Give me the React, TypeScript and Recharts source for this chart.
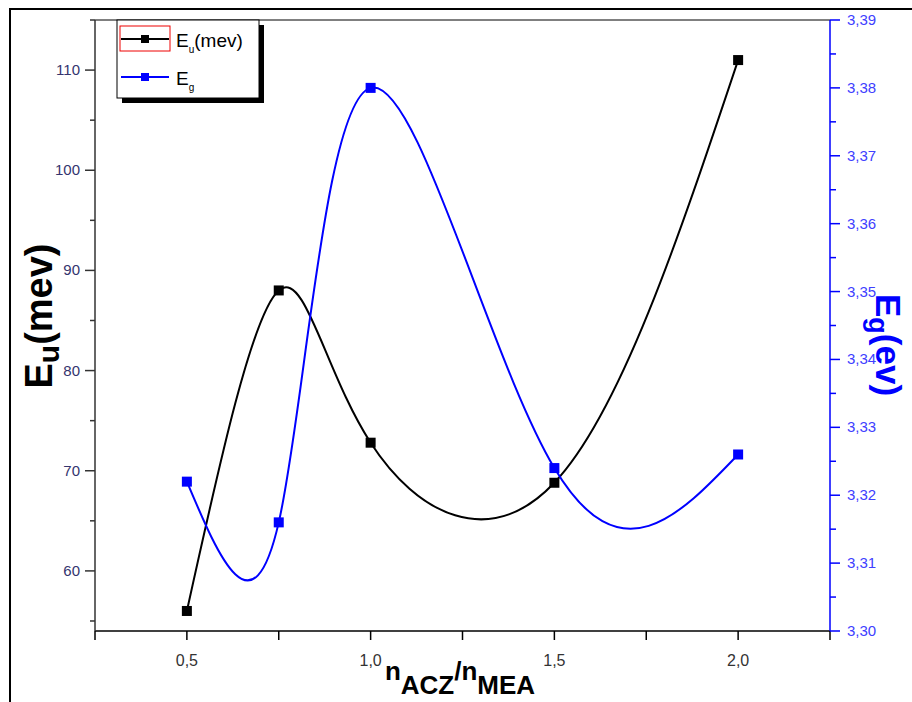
import React from "react";
import {
  ComposedChart,
  Line,
  XAxis,
  YAxis,
  ReferenceLine,
} from "recharts";

// ratio nACZ/nMEA
const ratios = [0.5, 0.75, 1.0, 1.5, 2.0];
// Urbach energy (mev), left axis
const euValues = [56, 88, 72.8, 68.8, 111];
// band gap (ev), right axis
const egValues = [3.322, 3.316, 3.38, 3.324, 3.326];

const xTicks = [0.25, 0.5, 0.75, 1.0, 1.25, 1.5, 1.75, 2.0, 2.25];
const leftTicks = [55, 60, 65, 70, 75, 80, 85, 90, 95, 100, 105, 110, 115];
const rightTicks = [
  3.3, 3.305, 3.31, 3.315, 3.32, 3.325, 3.33, 3.335, 3.34, 3.345, 3.35,
  3.355, 3.36, 3.365, 3.37, 3.375, 3.38, 3.385, 3.39,
];

const data = ratios.map((r, i) => ({ r, eu: euValues[i], eg: egValues[i] }));

const FONT = "'Liberation Sans', Arial, sans-serif";

const LeftTick = (props: any) => {
  const { x, y, payload } = props;
  const major = payload.value % 10 === 0;
  return (
    <g>
      <line x1={x} x2={x - (major ? 10 : 5)} y1={y} y2={y} stroke="#333" strokeWidth={1.5} />
      {major && (
        <text x={x - 15} y={y} dy={5} textAnchor="end" fill="#34346e" fontSize={15} fontFamily={FONT}>
          {payload.value}
        </text>
      )}
    </g>
  );
};

const RightTick = (props: any) => {
  const { x, y, payload } = props;
  const major = Math.round(payload.value * 1000) % 10 === 0;
  return (
    <g>
      <line x1={x} x2={x + (major ? 10 : 6)} y1={y} y2={y} stroke="#0000ff" strokeWidth={1.5} />
      {major && (
        <text x={x + 17} y={y} dy={5} textAnchor="start" fill="#4040ff" fontSize={15} fontFamily={FONT}>
          {payload.value.toFixed(2).replace(".", ",")}
        </text>
      )}
    </g>
  );
};

const BottomTick = (props: any) => {
  const { x, y, payload } = props;
  const major = Math.round(payload.value * 100) % 50 === 0;
  return (
    <g>
      <line x1={x} x2={x} y1={y} y2={y + 9} stroke="#000" strokeWidth={1.5} />
      {major && (
        <text x={x} y={y} dy={35} textAnchor="middle" fill="#333" fontSize={16}
          fontFamily="'Liberation Sans Narrow', 'Liberation Sans', Arial, sans-serif">
          {payload.value.toFixed(1).replace(".", ",")}
        </text>
      )}
    </g>
  );
};

const square = (color: string) => (p: any) => (
  <rect key={`sq-${color}-${p.index}`} x={p.cx - 5} y={p.cy - 5} width={10} height={10} fill={color} />
);

export default function App() {
  return (
    <div style={{ position: "absolute", left: 0, top: 0, width: 912, height: 702, background: "#fff" }}>
      <ComposedChart width={912} height={702} data={data} margin={{ top: 20, right: 0, bottom: 0, left: 0 }}>
        <XAxis
          dataKey="r"
          type="number"
          domain={[0.25, 2.25]}
          ticks={xTicks}
          interval={0}
          height={71}
          tickLine={false}
          tickSize={0}
          tickMargin={0}
          axisLine={{ stroke: "#000", strokeWidth: 1.5 }}
          tick={<BottomTick />}
        />
        <YAxis
          yAxisId="left"
          orientation="left"
          width={95}
          domain={[54, 115]}
          ticks={leftTicks}
          interval={0}
          allowDataOverflow
          tickLine={false}
          tickSize={0}
          tickMargin={0}
          axisLine={{ stroke: "#333", strokeWidth: 1.5 }}
          tick={<LeftTick />}
        />
        <YAxis
          yAxisId="right"
          orientation="right"
          width={82}
          domain={[3.3, 3.39]}
          ticks={rightTicks}
          interval={0}
          allowDataOverflow
          tickLine={false}
          tickSize={0}
          tickMargin={0}
          axisLine={{ stroke: "#0000ff", strokeWidth: 1.5 }}
          tick={<RightTick />}
        />
        <ReferenceLine yAxisId="left" y={115} stroke="#000" strokeWidth={1} />
        <Line
          yAxisId="left"
          dataKey="eu"
          type="natural"
          stroke="#000"
          strokeWidth={2}
          dot={square("#000")}
          activeDot={false}
          isAnimationActive={false}
        />
        <Line
          yAxisId="right"
          dataKey="eg"
          type="natural"
          stroke="#0000ff"
          strokeWidth={2}
          dot={square("#0000ff")}
          activeDot={false}
          isAnimationActive={false}
        />
      </ComposedChart>

      <svg width={912} height={702} style={{ position: "absolute", left: 0, top: 0, pointerEvents: "none" }}>
        {/* outer frame */}
        <path d="M10,702 L10,9 L912,9" fill="none" stroke="#000" strokeWidth={2} />

        {/* legend */}
        <rect x={122} y={25} width={142} height={78} fill="#000" />
        <rect x={117} y={20} width={142} height={78} fill="#fff" stroke="#000" strokeWidth={1} />
        <rect x={120} y={26} width={50} height={25} fill="none" stroke="#e00" strokeWidth={1} />
        <line x1={121} x2={169} y1={39} y2={39} stroke="#000" strokeWidth={2} />
        <rect x={141} y={35} width={8} height={8} fill="#000" />
        <text x={176} y={47} fontSize={19} fontFamily={FONT} fill="#000">
          E<tspan fontSize={10} dy={6}>u</tspan>
          <tspan dy={-6}>(mev)</tspan>
        </text>
        <line x1={121} x2={169} y1={77} y2={77} stroke="#0000ff" strokeWidth={2} />
        <rect x={141} y={73} width={8} height={8} fill="#0000ff" />
        <text x={176} y={85} fontSize={19} fontFamily={FONT} fill="#000">
          E<tspan fontSize={10} dy={6}>g</tspan>
        </text>

        {/* left axis title */}
        <text transform="translate(52,316) rotate(-90)" textAnchor="middle" fontSize={38}
          fontWeight="bold" fontFamily={FONT} fill="#000">
          E<tspan fontSize={30} dy={7}>u</tspan>
          <tspan dy={-7}>(mev)</tspan>
        </text>

        {/* right axis title */}
        <text transform="translate(876,345) rotate(90)" textAnchor="middle" fontSize={35}
          fontWeight="bold" fontFamily={FONT} fill="#0000ff">
          E<tspan fontSize={27} dy={7}>g</tspan>
          <tspan dy={-7}>(ev)</tspan>
        </text>

        {/* x axis title */}
        <text x={460} y={680} textAnchor="middle" fontSize={26} fontWeight="bold" fontFamily={FONT} fill="#000">
          n<tspan dy={14}>ACZ</tspan>
          <tspan dy={-14}>/n</tspan>
          <tspan dy={14}>MEA</tspan>
        </text>
      </svg>
    </div>
  );
}
